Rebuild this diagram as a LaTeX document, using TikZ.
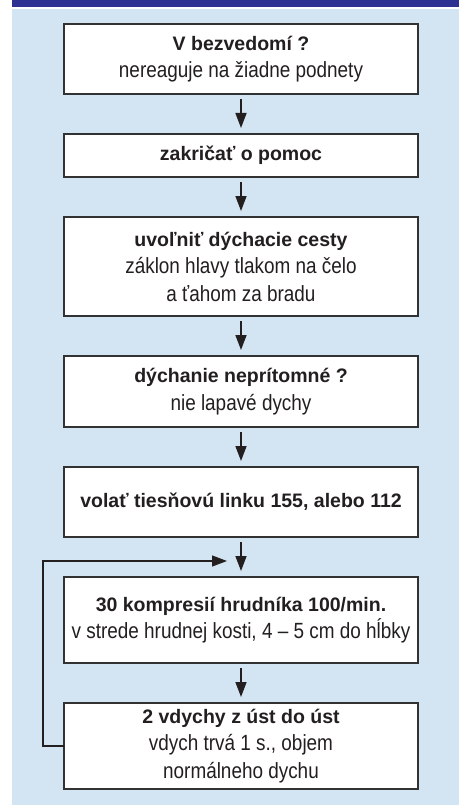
\documentclass[tikz,border=0pt]{standalone}
\usepackage{fontspec}
\setmainfont{Liberation Sans}[FakeStretch=0.86]
\newfontfamily\headfont{Liberation Sans}
\usepackage{xcolor}
\usetikzlibrary{arrows.meta, positioning, calc}
\definecolor{BLSBar}{RGB}{46, 49, 146}
\definecolor{BLSPanel}{RGB}{211, 228, 243}
\definecolor{BLSInk}{RGB}{35, 31, 32}
\definecolor{BLSBorder}{RGB}{50, 50, 50}
\newcommand{\headline}[1]{{\headfont\bfseries\fontsize{19.5}{27}\selectfont #1}}
\tikzset{
  stepbox/.style={draw=BLSBorder, fill=white, line width=1.2pt,
    minimum width=354pt, align=center, inner sep=0pt,
    outer sep=0pt, text=BLSInk, font=\fontsize{22}{27.5}\selectfont},
  flow/.style={draw=BLSInk, line width=1.5pt,
    -{Triangle[length=15pt,width=11pt]}},
}
\begin{document}
\begin{tikzpicture}[x=1pt, y=-1pt, node distance=40pt]
    \useasboundingbox (0,0) rectangle (459,805);
    \fill[BLSBar] (12,0) rectangle (459,7);
    \fill[BLSPanel] (12,9) rectangle (459,805);

    \node[stepbox, minimum height=70pt] (bezvedomie) at (241,59)
      {\headline{V bezvedomí ?}\\ nereaguje na žiadne podnety};
    \node[stepbox, minimum height=43pt, below=of bezvedomie] (pomoc)
      {\headline{zakričať o pomoc}};
    \node[stepbox, minimum height=99pt, below=of pomoc] (cesty)
      {\headline{uvoľniť dýchacie cesty}\\ záklon hlavy tlakom na čelo\\ a ťahom za bradu};
    \node[stepbox, minimum height=71pt, below=of cesty] (dychanie)
      {\headline{dýchanie neprítomné ?}\\ nie lapavé dychy};
    \node[stepbox, minimum height=70pt, below=of dychanie] (linka)
      {\headline{volať tiesňovú linku 155, alebo 112}};
    \node[stepbox, minimum height=86pt, below=of linka] (kompresie)
      {\headline{30 kompresií hrudníka 100/min.}\\ v strede hrudnej kosti, 4 – 5 cm do hĺbky};
    \node[stepbox, minimum height=86pt, below=of kompresie] (vdychy)
      {\headline{2 vdychy z úst do úst}\\ vdych trvá 1 s., objem\\ normálneho dychu};

    % sipky medzi krokmi
    \foreach \a/\b in {bezvedomie/pomoc, pomoc/cesty, cesty/dychanie,
      dychanie/linka, linka/kompresie, kompresie/vdychy}
      \draw[flow, shorten <=5pt, shorten >=6pt] (\a) -- (\b);

    % navrat do cyklu
    \coordinate (navrat) at ($(kompresie.north)+(-14,-16)$);
    \draw[flow, line width=1.2pt] (vdychy.west) -- ++(-21,0) |- (navrat);
\end{tikzpicture}
\end{document}
